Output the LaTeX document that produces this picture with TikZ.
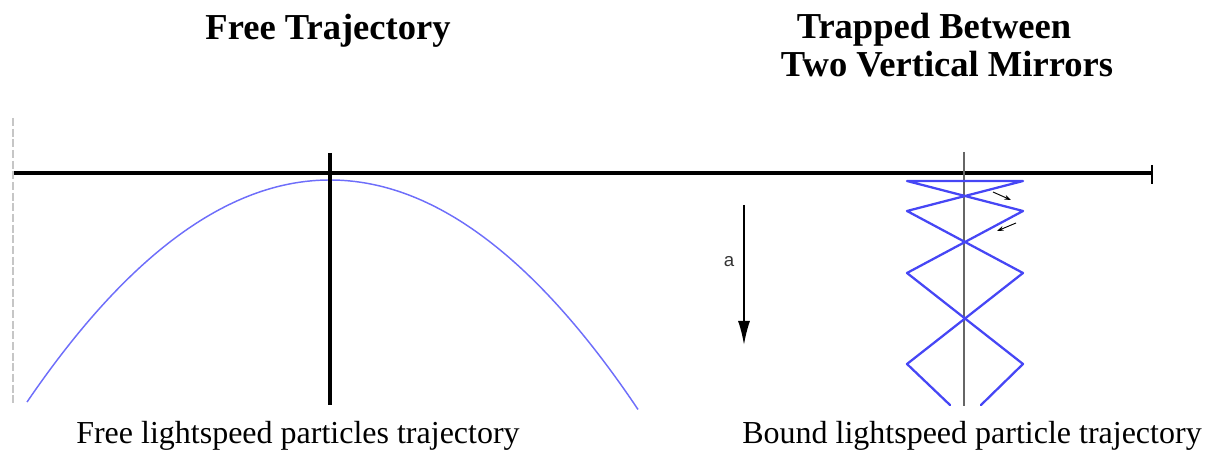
\documentclass[tikz,border=0pt]{standalone}
\usepackage{fontspec}
\setmainfont{Liberation Serif}
\newfontfamily\labelsans{Liberation Sans}
\usetikzlibrary{arrows.meta}
\definecolor{traj}{RGB}{70,70,245}
\definecolor{trajlight}{RGB}{110,110,250}
\tikzset{
  title/.style={font=\fontsize{27.4}{32}\selectfont\bfseries, inner sep=0pt, anchor=base},
  caption/.style={font=\fontsize{24}{28}\selectfont, inner sep=0pt, anchor=base west},
  axisline/.style={line width=2.4pt, black},
  mirrorline/.style={line width=1.6pt, gray!80!black},
  zigzag/.style={line width=1.7pt, traj, line join=round, line cap=round},
  smallarrow/.style={line width=0.7pt, -{Stealth[length=5pt,width=3.5pt]}},
}
\begin{document}
\begin{tikzpicture}[x=0.75pt,y=-0.75pt]
\useasboundingbox (0,0) rectangle (1211,452);
% titles
\node[title] (t1) at (328,40) {Free Trajectory};
\node[title] (t2) at (934,39) {Trapped Between};
\node[title] (t3) at (947,77) {Two Vertical Mirrors};
% captions
\node[caption] (c1) at (76,443) {Free lightspeed particles trajectory};
\node[caption] (c2) at (742,443) {Bound lightspeed particle trajectory};
% coordinates
\coordinate (hl) at (14,173);
\coordinate (hr) at (1151,173);
\coordinate (tickT) at (1152,165);
\coordinate (tickB) at (1152,184);
\coordinate (gT) at (13,118);
\coordinate (gB) at (13,404);
\coordinate (vT) at (330,153);
\coordinate (vB) at (330,405);
\coordinate (mT) at (964,152);
\coordinate (mB) at (964,406);
% faint left guide
\draw[gray!45, line width=0.8pt, dash pattern=on 6pt off 2pt] (gT) -- (gB);
% free trajectory parabola
\draw[trajlight, line width=1.1pt, domain=27:638, samples=120, smooth]
  plot (\x, {180 + 225*((\x-330)/305)^2});
% axes
\draw[axisline] (hl) -- (hr);
\draw[line width=0.9pt] (tickT) -- (tickB);
\draw[axisline] (vT) -- (vB);
% mirror vertical
\draw[mirrorline] (mT) -- (mB);
% zigzag bound trajectory
\coordinate (z0) at (950,405);
\coordinate (z1) at (907,364);
\coordinate (z2) at (1023,273);
\coordinate (z3) at (907,211);
\coordinate (z4) at (1023,181);
\coordinate (z5) at (907,181);
\coordinate (z6) at (1023,211);
\coordinate (z7) at (907,273);
\coordinate (z8) at (1023,364);
\coordinate (z9) at (981,405);
\draw[zigzag] (z0) -- (z1) -- (z2) -- (z3) -- (z4) -- (z5) -- (z6) -- (z7) -- (z8) -- (z9);
% small arrows
\coordinate (a1s) at (993,192);
\coordinate (a1e) at (1011,200);
\coordinate (a2s) at (1016,223);
\coordinate (a2e) at (997,231);
\draw[smallarrow] (a1s) -- (a1e);
\draw[smallarrow] (a2s) -- (a2e);
% acceleration arrow
\coordinate (accT) at (744,205);
\coordinate (accB) at (744,345);
\draw[line width=1.3pt, -{Latex[length=18pt,width=9pt]}] (accT) -- (accB);
\node[font=\labelsans\fontsize{14}{16}\selectfont, text=black!80, inner sep=0pt] (alabel) at (729,262) {a};
\end{tikzpicture}
\end{document}
